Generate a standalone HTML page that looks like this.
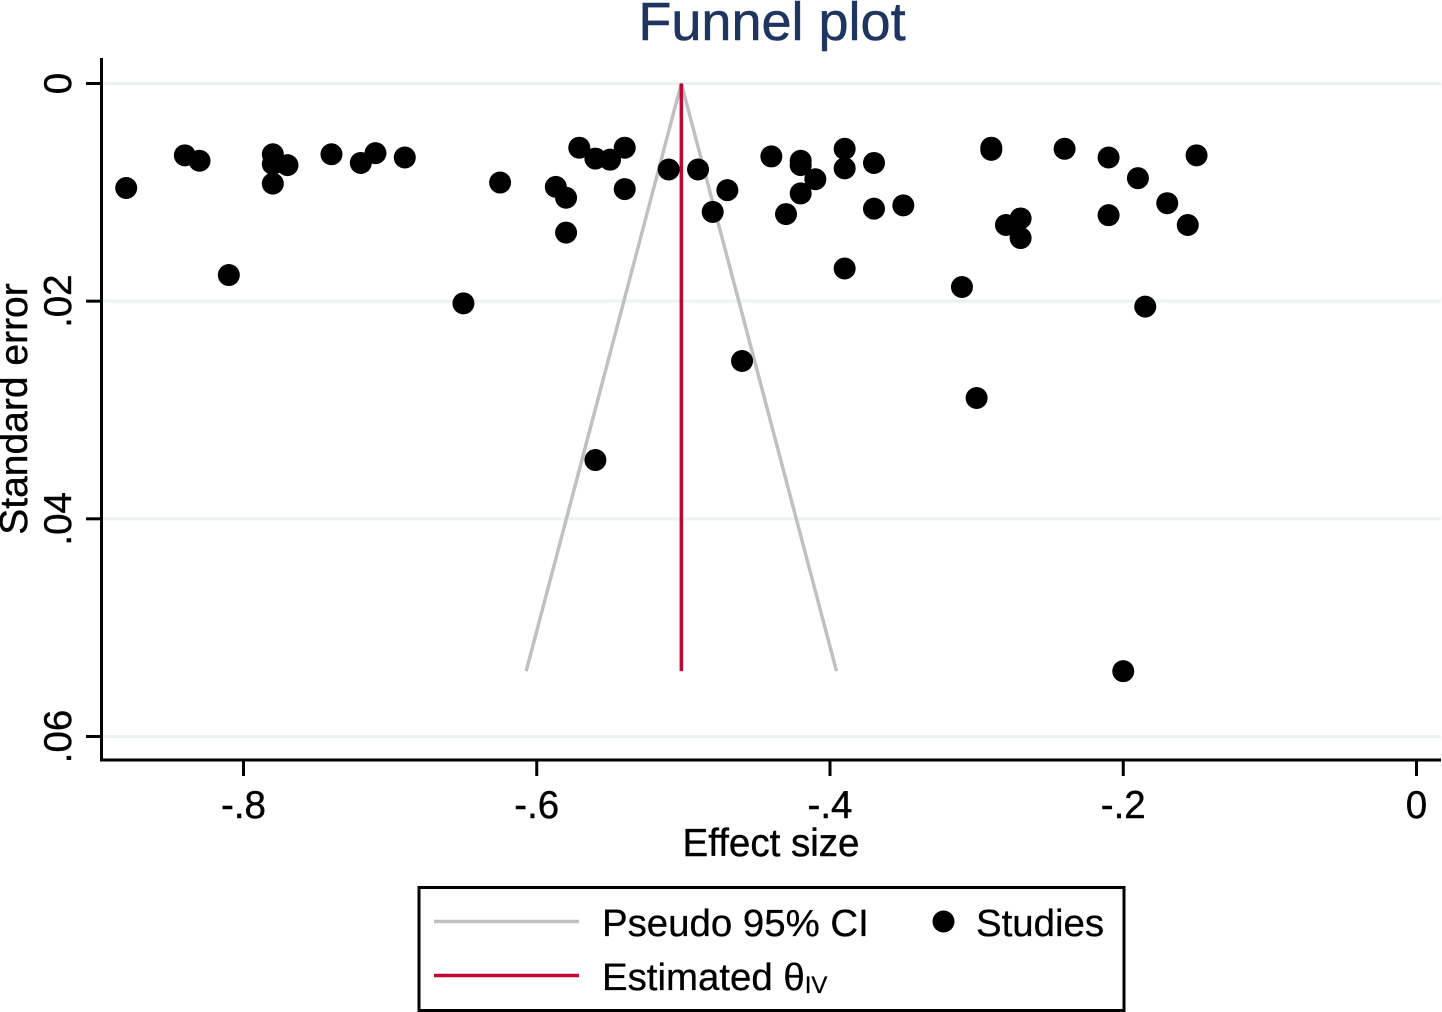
<!DOCTYPE html>
<html lang="en">
<head>
<meta charset="utf-8">
<title>Funnel plot</title>
<style>
html,body{margin:0;padding:0;background:#fff;}
svg{display:block;font-family:"Liberation Sans",Arial,sans-serif;}
</style>
</head>
<body>
<svg id="chart" xmlns="http://www.w3.org/2000/svg" width="1442" height="1012" viewBox="0 0 1442 1012">
  <rect x="0" y="0" width="1442" height="1012" fill="#ffffff"/>
  <text x="772" y="40" font-size="54" fill="#1e3560" stroke="#1e3560" stroke-width="0.5" text-anchor="middle">Funnel plot</text>
  <g id="grid"></g>
  <g id="funnel"></g>
  <g id="points"></g>
  <line x1="101.5" y1="58" x2="101.5" y2="761.5" stroke="#000" stroke-width="3"/>
  <line x1="100" y1="760" x2="1441" y2="760" stroke="#000" stroke-width="3"/>
  <g id="axes"></g>
  <text transform="translate(27 409) rotate(-90)" font-size="39" stroke="#000" stroke-width="0.4" text-anchor="middle" fill="#000">Standard error</text>
  <text x="771" y="856" font-size="38.5" stroke="#000" stroke-width="0.4" text-anchor="middle" fill="#000">Effect size</text>
  <g>
    <rect x="419" y="887.5" width="705" height="123" fill="#fff" stroke="#000" stroke-width="3"/>
    <line x1="434" y1="921.5" x2="579" y2="921.5" stroke="#c0c0c0" stroke-width="3.5"/>
    <text x="602" y="936" font-size="38.4" fill="#000" stroke="#000" stroke-width="0.3">Pseudo 95% CI</text>
    <circle cx="943.5" cy="921.5" r="11" fill="#000"/>
    <text x="976" y="936" font-size="38.4" fill="#000" stroke="#000" stroke-width="0.3">Studies</text>
    <line x1="434" y1="975.5" x2="579" y2="975.5" stroke="#c10534" stroke-width="3.5"/>
    <text x="602" y="990" font-size="38.4" fill="#000" stroke="#000" stroke-width="0.3">Estimated θ<tspan font-size="24" dy="3">IV</tspan></text>
  </g>
</svg>
<script>
const xTickValues = [-0.8, -0.6, -0.4, -0.2, 0];
const xTickLabels = ['-.8', '-.6', '-.4', '-.2', '0'];
const yTickValues = [0, 0.02, 0.04, 0.06];
const yTickLabels = ['0', '.02', '.04', '.06'];
const effectSizes = [
  -0.88, -0.84, -0.83, -0.81, -0.78, -0.78, -0.78, -0.77, -0.74, -0.72,
  -0.71, -0.69, -0.65, -0.625, -0.587, -0.58, -0.58, -0.571, -0.56, -0.56,
  -0.55, -0.54, -0.54, -0.51, -0.49, -0.48, -0.47, -0.46, -0.44, -0.43,
  -0.42, -0.42, -0.42, -0.41, -0.39, -0.39, -0.39, -0.37, -0.37, -0.35,
  -0.31, -0.30, -0.29, -0.29, -0.28, -0.27, -0.27, -0.24, -0.21, -0.21,
  -0.20, -0.19, -0.185, -0.17, -0.156, -0.15
];
const standardErrors = [
  0.0096, 0.0066, 0.0071, 0.0176, 0.0065, 0.0074, 0.0092, 0.0075, 0.0065, 0.0073,
  0.0064, 0.0068, 0.0202, 0.0091, 0.0095, 0.0105, 0.0137, 0.0059, 0.0069, 0.0346,
  0.0070, 0.0059, 0.0097, 0.0079, 0.0079, 0.0118, 0.0098, 0.0255, 0.0067, 0.0120,
  0.0071, 0.0075, 0.0101, 0.0088, 0.0060, 0.0078, 0.0170, 0.0073, 0.0115, 0.0112,
  0.0187, 0.0289, 0.0059, 0.0061, 0.0130, 0.0124, 0.0142, 0.0060, 0.0068, 0.0121,
  0.0540, 0.0087, 0.0205, 0.0110, 0.0130, 0.0066
];
const estimatedTheta = -0.5014;
const maxStandardError = 0.054;
const ciMultiplier = 1.96;

const NS = 'http://www.w3.org/2000/svg';
function xScale(v) { return 1416.5 + v * 1466.25; }
function yScale(v) { return 83.5 + v * 10883; }
function make(tag, attrs, parent) {
  const el = document.createElementNS(NS, tag);
  for (const k in attrs) el.setAttribute(k, attrs[k]);
  parent.appendChild(el);
  return el;
}
const grid = document.getElementById('grid');
const axes = document.getElementById('axes');
const funnel = document.getElementById('funnel');
const points = document.getElementById('points');

yTickValues.forEach(function (v, i) {
  const y = yScale(v);
  const g = make('line', {x1: 103, y1: y, x2: 1441, y2: y, stroke: '#eaf2f3', 'stroke-width': 3}, grid);
  
  
  const t = make('line', {x1: 86, y1: y, x2: 101, y2: y, stroke: '#000', 'stroke-width': 3}, axes);
  
  
  const l = make('text', {transform: 'translate(71 ' + y + ') rotate(-90)', 'font-size': 38.5, 'text-anchor': 'middle', fill: '#000', stroke: '#000', 'stroke-width': 0.4}, axes);
  
  
  l.textContent = yTickLabels[i];
});

xTickValues.forEach(function (v, i) {
  const x = xScale(v);
  const t = make('line', {x1: x, y1: 760, x2: x, y2: 776, stroke: '#000', 'stroke-width': 3}, axes);
  
  
  const l = make('text', {x: x, y: 818, 'font-size': 38.5, 'text-anchor': 'middle', fill: '#000', stroke: '#000', 'stroke-width': 0.4}, axes);
  
  
  l.textContent = xTickLabels[i];
});

const halfWidth = ciMultiplier * maxStandardError;
const ciPath = make('path', {
  d: 'M' + xScale(estimatedTheta - halfWidth) + ' ' + yScale(maxStandardError) +
     ' L' + xScale(estimatedTheta) + ' ' + yScale(0) +
     ' L' + xScale(estimatedTheta + halfWidth) + ' ' + yScale(maxStandardError),
  fill: 'none', stroke: '#c0c0c0', 'stroke-width': 3.5, 'stroke-linejoin': 'bevel'
}, funnel);



const estimateLine = make('line', {
  x1: xScale(estimatedTheta), y1: yScale(0),
  x2: xScale(estimatedTheta), y2: yScale(maxStandardError),
  stroke: '#c10534', 'stroke-width': 3.5
}, funnel);



effectSizes.forEach(function (v, i) {
  const c = make('circle', {cx: xScale(v), cy: yScale(standardErrors[i]), r: 11, fill: '#000'}, points);
  
  
});
</script>
</body>
</html>
